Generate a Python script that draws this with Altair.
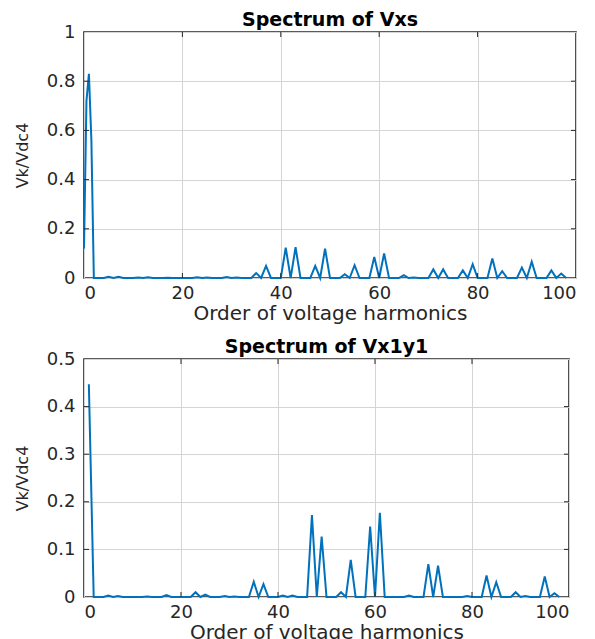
import altair as alt
import pandas as pd

# ---- data ----
top_title = "Spectrum of Vxs"
bot_title = "Spectrum of Vx1y1"
x_title = "Order of voltage harmonics"
y_title = "Vk/Vdc4"

# fundamental region (fine resolution) + harmonic orders 2..98
top_order = [0, 0.5, 1, 1.5] + list(range(2, 99))
top_mag = [0.12, 0.72, 0.83, 0.56,
           0, 0, 0, 0.005, 0, 0.005, 0, 0, 0, 0.002,
           0, 0.003, 0, 0, 0, 0.001, 0, 0, 0, 0,
           0, 0.003, 0, 0.002, 0, 0, 0, 0.004, 0, 0.002,
           0, 0, 0, 0.02, 0, 0.049, 0, 0, 0, 0.123,
           0, 0.125, 0, 0, 0, 0.049, 0, 0.119, 0, 0,
           0, 0.015, 0, 0.052, 0, 0, 0, 0.085, 0, 0.10,
           0, 0, 0, 0.012, 0, 0.002, 0, 0, 0, 0.035,
           0, 0.035, 0, 0, 0, 0.031, 0, 0.056, 0, 0,
           0, 0.079, 0, 0.028, 0, 0, 0, 0.042, 0, 0.066,
           0, 0, 0, 0.031, 0, 0.018, 0]

bot_order = [1] + list(range(2, 99))
bot_mag = [0.447,
           0, 0, 0, 0.003, 0, 0.002, 0, 0, 0, 0,
           0, 0.001, 0, 0, 0, 0.004, 0, 0, 0, 0,
           0, 0.01, 0, 0.005, 0, 0, 0, 0.002, 0, 0.001,
           0, 0, 0, 0.032, 0, 0.027, 0, 0, 0, 0.003,
           0, 0.003, 0, 0, 0, 0.172, 0, 0.127, 0, 0,
           0, 0.01, 0, 0.078, 0, 0, 0, 0.148, 0, 0.177,
           0, 0, 0, 0, 0, 0.003, 0, 0, 0, 0.069,
           0, 0.066, 0, 0, 0, 0, 0, 0.002, 0, 0,
           0, 0.045, 0, 0.031, 0, 0, 0, 0.01, 0, 0.002,
           0, 0, 0, 0.043, 0, 0.008, 0]

x_ticks = [0, 20, 40, 60, 80, 100]
top_y_ticks = [0, 0.2, 0.4, 0.6, 0.8, 1]
bot_y_ticks = [0, 0.1, 0.2, 0.3, 0.4, 0.5]

LINE = "#0072BD"
DARK = "#262626"


def panel(order, mag, title, yticks, w, h):
    df = pd.DataFrame({"order": order, "mag": mag})
    ymax = yticks[-1]
    xs = alt.Scale(domain=[0, 100], nice=False, zero=False)
    ys = alt.Scale(domain=[0, ymax], nice=False)
    line = alt.Chart(df).mark_line(color=LINE, strokeWidth=2).encode(
        x=alt.X("order:Q", scale=xs,
                axis=alt.Axis(values=x_ticks, title=x_title,
                              labelExpr="format(datum.value, 'd')")),
        y=alt.Y("mag:Q", scale=ys,
                axis=alt.Axis(values=yticks, title=y_title,
                              labelExpr="format(datum.value, '~g')")),
    )
    xt = pd.DataFrame({"order": x_ticks[1:-1]})
    yt = pd.DataFrame({"mag": yticks[1:-1]})
    tick_b = alt.Chart(xt).mark_rule(color=DARK, strokeWidth=1).encode(
        x=alt.X("order:Q", scale=xs), y=alt.value(h), y2=alt.value(h - 5))
    tick_t = alt.Chart(xt).mark_rule(color=DARK, strokeWidth=1).encode(
        x=alt.X("order:Q", scale=xs), y=alt.value(0), y2=alt.value(5))
    tick_l = alt.Chart(yt).mark_rule(color=DARK, strokeWidth=1).encode(
        y=alt.Y("mag:Q", scale=ys), x=alt.value(0), x2=alt.value(5))
    tick_r = alt.Chart(yt).mark_rule(color=DARK, strokeWidth=1).encode(
        y=alt.Y("mag:Q", scale=ys), x=alt.value(w - 5), x2=alt.value(w))
    return alt.layer(line, tick_b, tick_t, tick_l, tick_r).properties(
        width=w, height=h,
        title=alt.TitleParams(title, font="DejaVu Sans", fontSize=19,
                              fontWeight="bold", color="black",
                              anchor="middle", offset=-7),
    )


top = panel(top_order, top_mag, top_title, top_y_ticks, 492, 246)
bot = panel(bot_order, bot_mag, bot_title, bot_y_ticks, 485, 238)

chart = alt.vconcat(top, bot, spacing=13).properties(
    padding={"left": 5, "top": 2, "right": 5, "bottom": 0},
    background="white",
).configure_view(
    stroke=DARK, strokeWidth=1.6
).configure_axis(
    domain=False,
    ticks=False,
    grid=True,
    gridColor="#d4d4d4",
    gridWidth=1,
    labelFont="DejaVu Sans",
    labelFontSize=18,
    labelColor=DARK,
    titleFont="DejaVu Sans",
    titleFontWeight="normal",
    titleColor=DARK,
).configure_axisX(
    labelPadding=6, titlePadding=1, titleFontSize=20,
).configure_axisY(
    labelPadding=9, titlePadding=16, titleFontSize=16,
)

chart.save("out.html", embed_options={"renderer": "svg", "actions": False})
